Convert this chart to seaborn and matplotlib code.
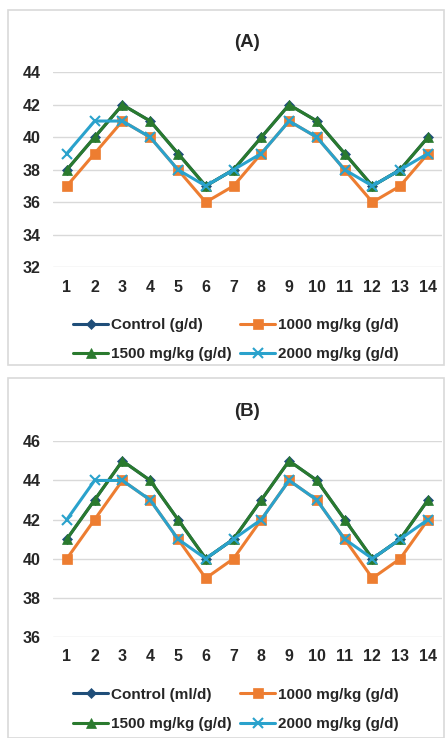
#!/usr/bin/python
"""Two panel line charts, (A) and (B)."""
import matplotlib
matplotlib.use('Agg')
import matplotlib.pyplot as plt
from matplotlib.patches import Rectangle
import pandas as pd
import seaborn as sns

sns.set_style("white")
plt.rcParams['font.family'] = ['Liberation Sans', 'DejaVu Sans']
plt.rcParams['font.weight'] = 'bold'

days = list(range(1, 15))
series_names = ['Control', '1000 mg/kg (g/d)', '1500 mg/kg (g/d)', '2000 mg/kg (g/d)']

# panel A
a_control = [38, 40, 42, 41, 39, 37, 38, 40, 42, 41, 39, 37, 38, 40]
a_1000 = [37, 39, 41, 40, 38, 36, 37, 39, 41, 40, 38, 36, 37, 39]
a_1500 = [38, 40, 42, 41, 39, 37, 38, 40, 42, 41, 39, 37, 38, 40]
a_2000 = [39, 41, 41, 40, 38, 37, 38, 39, 41, 40, 38, 37, 38, 39]

# panel B
b_control = [41, 43, 45, 44, 42, 40, 41, 43, 45, 44, 42, 40, 41, 43]
b_1000 = [40, 42, 44, 43, 41, 39, 40, 42, 44, 43, 41, 39, 40, 42]
b_1500 = [41, 43, 45, 44, 42, 40, 41, 43, 45, 44, 42, 40, 41, 43]
b_2000 = [42, 44, 44, 43, 41, 40, 41, 42, 44, 43, 41, 40, 41, 42]

colors = ['#1F4E79', '#ED7D31', '#2A7A2E', '#2AA2CC']
markers = ['D', 's', '^', 'x']
sizes = [5.5, 7, 7, 7]


# ----------------------------------------------------------------------------
def panel(fig, rect, frame, title, values, control_label, ylim, yticks):
    """Draw one framed panel with its legend."""
    fig.patches.append(Rectangle(frame[:2], frame[2], frame[3], transform=fig.transFigure,
                                 fill=False, edgecolor='#D9D9D9', lw=1.2, zorder=0))
    ax = fig.add_axes(rect)
    labels = [control_label] + series_names[1:]
    handles = []
    for vals, lab, c, m, s in zip(values, labels, colors, markers, sizes):
        df = pd.DataFrame({'day': days, 'val': vals})
        sns.lineplot(data=df, x='day', y='val', ax=ax, color=c, marker=m, markersize=s,
                     markeredgecolor=c, markeredgewidth=1.5 if m == 'x' else 0.5, lw=2.2,
                     label=lab, legend=False)
        handles.append(ax.lines[-1])
    ax.set_xlim(0.5, 14.5)
    ax.set_ylim(*ylim)
    ax.set_yticks(yticks)
    ax.set_xticks(days)
    ax.set_xlabel('')
    ax.set_ylabel('')
    ax.grid(axis='y', color='#D9D9D9', lw=1)
    ax.set_axisbelow(True)
    sns.despine(ax=ax, left=True, bottom=True)
    ax.tick_params(length=0, labelsize=11.5, pad=9)
    for t in ax.get_xticklabels() + ax.get_yticklabels():
        t.set_fontweight('bold')
    ax.set_title(title, fontsize=13.5, fontweight='bold', pad=18)
    order = [0, 2, 1, 3]
    ax.legend([handles[i] for i in order], [labels[i] for i in order], ncol=2,
              loc='upper center', bbox_to_anchor=(0.47, -0.19), frameon=False,
              prop={'weight': 'bold', 'size': 11}, handlelength=2.3,
              handletextpad=0.15, columnspacing=0.6, labelspacing=1.0)
    return ax


fig = plt.figure(figsize=(4.45, 7.38), dpi=100)

panel(fig, [0.119, 0.638, 0.874, 0.264], [0.018, 0.506, 0.98, 0.48], '(A)',
      [a_control, a_1000, a_1500, a_2000], 'Control (g/d)', (32, 44), range(32, 45, 2))
panel(fig, [0.119, 0.137, 0.874, 0.265], [0.018, 0.0, 0.98, 0.488], '(B)',
      [b_control, b_1000, b_1500, b_2000], 'Control (ml/d)', (36, 46), range(36, 47, 2))

fig.savefig('out.png', dpi=100)
